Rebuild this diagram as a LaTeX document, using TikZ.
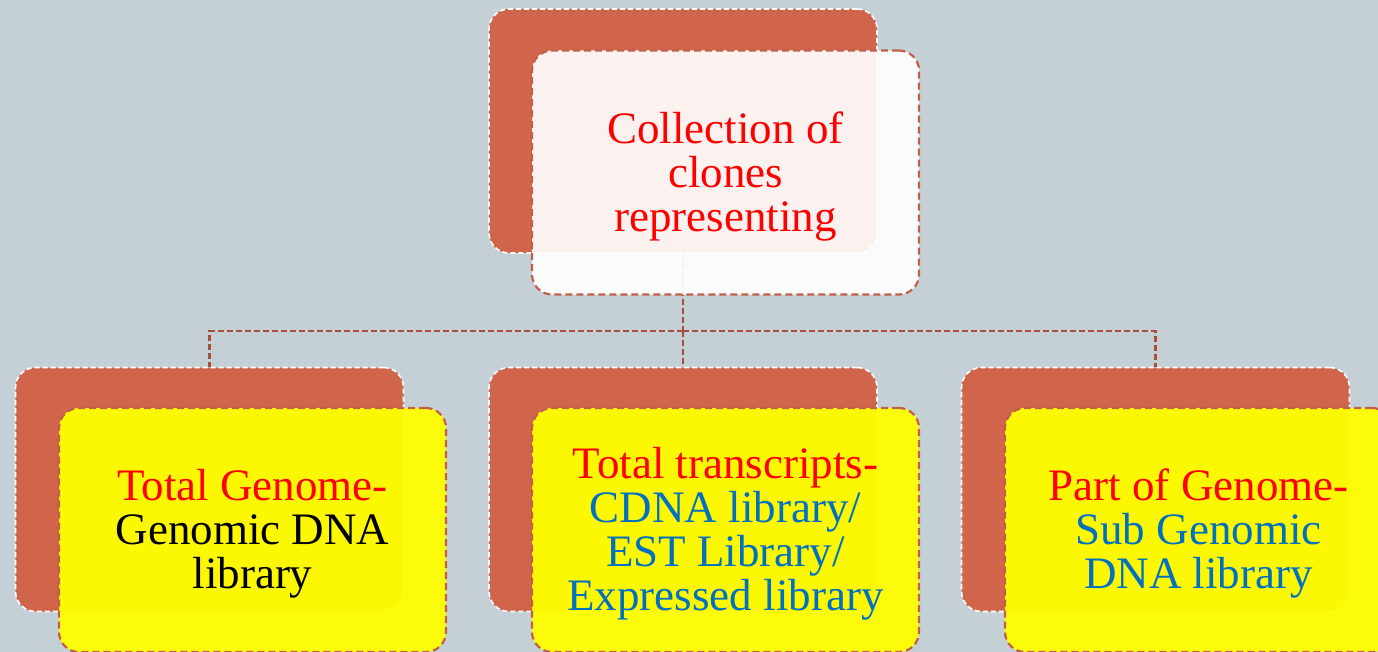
\documentclass[tikz,border=0pt]{standalone}
\usepackage{fontspec}
\setmainfont{Liberation Serif}
\definecolor{bgc}{HTML}{C5D0D6}
\definecolor{backc}{HTML}{D0654B}
\definecolor{frontline}{HTML}{C0604A}
\definecolor{connc}{HTML}{A84E3C}
\definecolor{txtred}{HTML}{FF0000}
\definecolor{txtblue}{HTML}{0070C0}
\definecolor{yel}{HTML}{FFFF00}
\newcommand{\tstrut}{\rule{0pt}{39pt}}
\tikzset{
  backbox/.style={draw=white, line width=1.6pt, dash pattern=on 5pt off 3pt,
    fill=backc, rounded corners=20pt, minimum width=388pt, minimum height=244pt,
    inner sep=0pt},
  frontbox/.style={draw=frontline, line width=2.2pt, dash pattern=on 7pt off 4pt,
    rounded corners=20pt, minimum width=387pt, minimum height=244pt,
    inner sep=0pt, text opacity=1, align=center,
    font=\fontsize{45}{44}\selectfont},
  topfront/.style={frontbox, fill=white, fill opacity=0.92},
  lowfront/.style={frontbox, fill=yel, fill opacity=0.95},
  conn/.style={draw=connc, line width=2.2pt, dash pattern=on 6pt off 3pt}
}
\begin{document}
\begin{tikzpicture}[x=1pt,y=-1pt]
\fill[bgc] (0,0) rectangle (1378,652);
\useasboundingbox (0,0) rectangle (1378,652);
\clip (0,0) rectangle (1378,652);
% back boxes
\node[backbox] (tb) at (683,131) {};
\node[backbox] (b1) at (209.5,489.5) {};
\node[backbox] (b2) at (683,489.5) {};
\node[backbox] (b3) at (1155.5,489.5) {};
% connectors
\coordinate (hub) at (683,331);
\draw[conn] (tb.south) -- (hub);
\draw[conn] (hub) -| (b1.north);
\draw[conn] (hub) -- (b2.north);
\draw[conn] (hub) -| (b3.north);
% front boxes
\node[topfront] (tf) at (725.5,172.5) {\tstrut\textcolor{txtred}{Collection of}\\\textcolor{txtred}{clones}\\\textcolor{txtred}{representing}};
\node[lowfront] (f1) at (252.5,530) {\tstrut\textcolor{txtred}{Total Genome-}\\Genomic DNA\\library};
\node[lowfront] (f2) at (725.5,530) {\tstrut\textcolor{txtred}{Total transcripts-}\\\textcolor{txtblue}{CDNA library/}\\\textcolor{txtblue}{EST Library/}\\\textcolor{txtblue}{Expressed library}};
\node[lowfront] (f3) at (1198.5,530) {\tstrut\textcolor{txtred}{Part of Genome-}\\\textcolor{txtblue}{Sub Genomic}\\\textcolor{txtblue}{DNA library}};
\end{tikzpicture}
\end{document}
